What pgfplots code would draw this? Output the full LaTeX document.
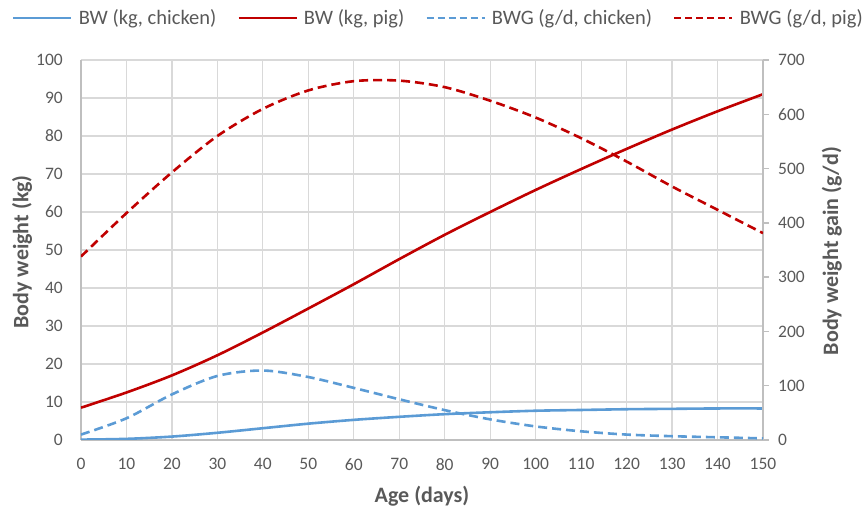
\documentclass[border=0pt]{standalone}
\usepackage{pgfplots}
\pgfplotsset{compat=1.18}
\usepackage{fontspec}
\setmainfont{Carlito}
\definecolor{cblue}{RGB}{91,155,213}
\definecolor{cred}{RGB}{192,0,0}
\definecolor{tgray}{RGB}{89,89,89}
\definecolor{ggray}{RGB}{217,217,217}
\definecolor{agray}{RGB}{191,191,191}
\pgfplotstableread{
x bwc bwp
0 0.1 8.5
10 0.3 12.5
20 0.9 17.0
30 1.9 22.3
40 3.1 28.3
50 4.3 34.6
60 5.3 41.0
70 6.1 47.6
80 6.8 54.0
90 7.3 60.0
100 7.7 65.8
110 7.9 71.3
120 8.1 76.6
130 8.2 81.7
140 8.3 86.5
150 8.3 91.0
}\bwdata
\pgfplotstableread{
x bwgc bwgp
0 10 338
10 40 418
20 84 493
30 118 560
40 128 610
50 116 644
60 96 661
70 75 662
80 55 650
90 38 625
100 25 594
110 16 556
120 10 513
130 7 467
140 5 424
150 3 381
}\bwgdata
\begin{document}
\begin{tikzpicture}
\useasboundingbox (-81pt,-68pt) rectangle (781pt,440pt);
\pgfplotsset{
  common/.style={
    scale only axis, width=682pt, height=380pt,
    at={(0pt,0pt)}, anchor=south west,
    xmin=0, xmax=150, xtick={0,10,...,150},
    axis line style={agray, line width=1.3pt},
    tick style={agray, line width=1.3pt},
    ticklabel style={font=\fontsize{17.5}{20}\selectfont, text=tgray},
    label style={font=\bfseries\fontsize{22}{26}\selectfont, text=tgray},
    /pgf/number format/assume math mode=true,
  }
}
\begin{axis}[common,
  ymin=0, ymax=100, ytick={0,10,...,100},
  axis y line*=left, axis x line*=bottom,
  grid=major, grid style={ggray, line width=1.2pt},
  major tick length=0pt,
  yticklabel style={anchor=east, inner sep=0pt, xshift=-18pt},
  xticklabel style={anchor=north, inner sep=0pt, yshift=-18pt},
  xlabel={Age (days)}, ylabel={Body weight (kg)},
  xlabel style={at={(axis description cs:0.5,-0.147)}, anchor=center},
  ylabel style={at={(axis description cs:-0.0865,0.495)}, anchor=center},
  legend columns=4,
  legend style={at={(axis description cs:-0.1012,1.1105)}, anchor=west, draw=none, fill=none,
    font=\fontsize{20.5}{23}\selectfont, text=tgray, inner sep=0pt,
    nodes={inner sep=0pt},
    /tikz/every odd column/.append style={column sep=6pt},
    /tikz/every even column/.append style={column sep=21pt}},
  legend image code/.code={\draw[#1] (0pt,0pt) -- (58pt,0pt);},
]
\addplot[cblue, line width=2.6pt, smooth] table[x=x, y=bwc] {\bwdata};
\addlegendentry{BW (kg, chicken)}
\addplot[cred, line width=2.6pt, smooth] table[x=x, y=bwp] {\bwdata};
\addlegendentry{BW (kg, pig)}
\addlegendimage{cblue, line width=2.6pt, dash pattern=on 7pt off 4pt}
\addlegendentry{BWG (g/d, chicken)}
\addlegendimage{cred, line width=2.6pt, dash pattern=on 7pt off 4pt}
\addlegendentry{BWG (g/d, pig)}
\end{axis}
\begin{axis}[common,
  ymin=0, ymax=700, ytick={0,100,...,700},
  axis y line*=right, axis x line=none,
  ytick pos=right, yticklabel pos=right,
  major tick length=6pt,
  tick align=outside,
  yticklabel style={anchor=west, inner sep=0pt, xshift=9pt},
  ylabel={Body weight gain (g/d)},
  ylabel style={at={(axis description cs:1.101,0.497)}, anchor=center},
]
\addplot[cblue, line width=2.6pt, smooth, dash pattern=on 9pt off 5pt] table[x=x, y=bwgc] {\bwgdata};
\addplot[cred, line width=2.6pt, smooth, dash pattern=on 9pt off 5pt] table[x=x, y=bwgp] {\bwgdata};
\end{axis}
\end{tikzpicture}
\end{document}
